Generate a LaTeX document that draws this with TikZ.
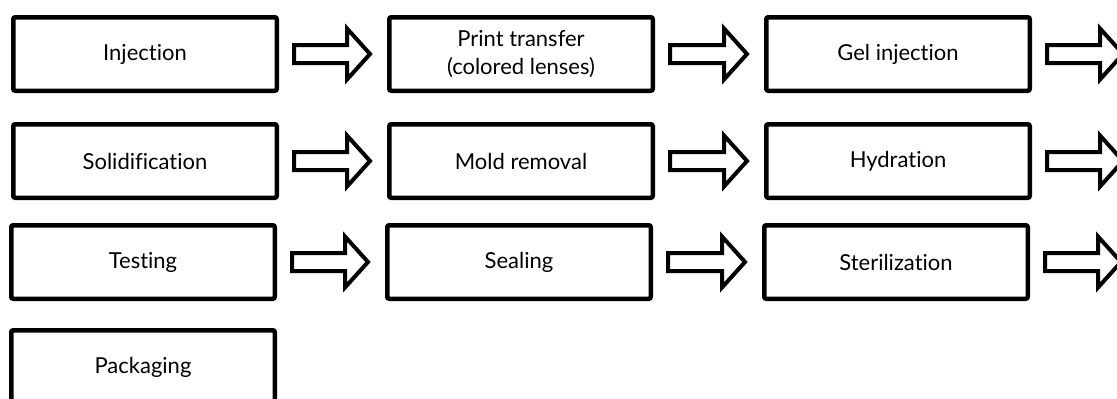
\documentclass[tikz,border=0pt]{standalone}
\usepackage{fontspec}
\setmainfont[Ligatures=NoCommon]{Lato}
\usetikzlibrary{calc}

\tikzset{
  stepbox/.style={draw=black, line width=4.5pt, rounded corners=2pt, fill=white,
    minimum width=263.5pt, minimum height=73.5pt, align=center,
    font=\fontsize{22}{28}\selectfont, inner sep=0pt},
  blockarrow/.style={draw=black, line width=4pt, fill=white, line join=miter}
}

% hollow block arrow from the east side of #1 to the west side of #2
\newcommand\flowarrow[2]{%
  \draw[blockarrow] let \p1=([xshift=15pt]#1.east), \p2=([xshift=-17pt]#2.west) in
    (\x1,\y1+9) -- (\x2-23,\y1+9) -- (\x2-23,\y1+25.5) -- (\x2,\y1)
    -- (\x2-23,\y1-25.5) -- (\x2-23,\y1-9) -- (\x1,\y1-9) -- cycle;}

\begin{document}
\begin{tikzpicture}[x=1pt, y=-1pt]
\useasboundingbox (0,0) rectangle (1117,399);

% row 1
\node[stepbox] (inj)  at (145,54)  {Injection};
\node[stepbox] (prt)  at (521,54)  {Print transfer\\(colored lenses)};
\node[stepbox] (gel)  at (898,54)  {Gel injection};
% row 2
\node[stepbox] (sol)  at (145,161) {Solidification};
\node[stepbox] (mold) at (521,161) {Mold removal};
\node[stepbox] (hyd)  at (898,161) {Hydration};
% row 3
\node[stepbox] (test) at (143,262) {Testing};
\node[stepbox] (seal) at (519,262) {Sealing};
\node[stepbox] (ster) at (896,262) {Sterilization};
% row 4
\node[stepbox] (pack) at (143,367) {Packaging};

% arrows leaving the right edge of each row
\coordinate (out1) at (1140,54);
\coordinate (out2) at (1140,161);
\coordinate (out3) at (1138,262);

\flowarrow{inj}{prt}
\flowarrow{prt}{gel}
\flowarrow{gel}{out1}
\flowarrow{sol}{mold}
\flowarrow{mold}{hyd}
\flowarrow{hyd}{out2}
\flowarrow{test}{seal}
\flowarrow{seal}{ster}
\flowarrow{ster}{out3}
\end{tikzpicture}
\end{document}
